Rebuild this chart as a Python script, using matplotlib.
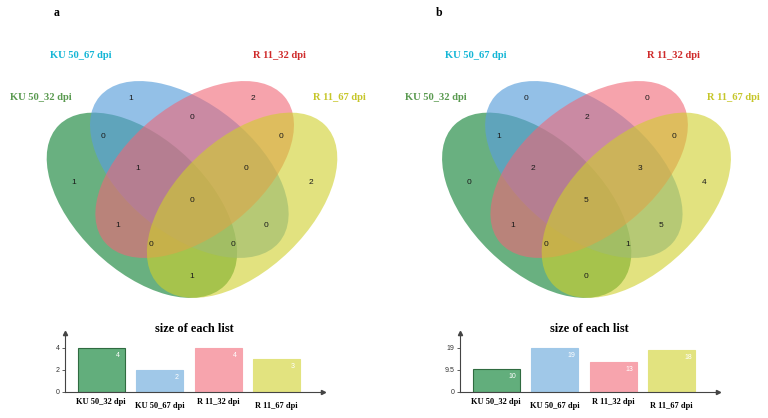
import matplotlib
matplotlib.use("Agg")
import matplotlib.pyplot as plt
from matplotlib.patches import Ellipse

# set names and colours
set_names = ["KU 50_32 dpi", "KU 50_67 dpi", "R 11_32 dpi", "R 11_67 dpi"]
name_colors = ["#5a9a50", "#14b6d6", "#cf2a2a", "#c6c62a"]

# region order: A, B, C, D, AB, BC, CD, AC, BD, AD, ABC, BCD, ACD, ABD, ABCD
counts_a = [1, 1, 2, 2, 0, 0, 0, 1, 0, 1, 1, 0, 0, 0, 0]
counts_b = [0, 0, 0, 4, 1, 2, 0, 1, 5, 0, 2, 3, 0, 1, 5]

# size of each list (bar charts)
sizes_a = [4, 2, 4, 3]
sizes_b = [10, 19, 13, 18]

# layout of the 4-set venn (data units of a 0..1 box)
ell_fill = ["#067c2c", "#5a9fdb", "#f06676", "#cfd02a"]
ell_alpha = [0.6, 0.65, 0.6, 0.6]
# (centre, width, height, angle)
ell_geom = [((0.35, 0.47), 0.70, 0.40, -45),
            ((0.492, 0.58), 0.70, 0.40, -40),
            ((0.508, 0.58), 0.70, 0.40, 40),
            ((0.65, 0.47), 0.70, 0.40, 45)]
region_xy = [(0.145, 0.541), (0.317, 0.80), (0.683, 0.80), (0.855, 0.541),
             (0.235, 0.68), (0.5, 0.741), (0.765, 0.68),
             (0.277, 0.409), (0.723, 0.409), (0.5, 0.252),
             (0.338, 0.584), (0.662, 0.584), (0.377, 0.35), (0.623, 0.35),
             (0.5, 0.486)]
name_xy = [(0.047, 0.80), (0.167, 0.932), (0.761, 0.932), (0.941, 0.80)]

bar_colors = ["#62ae7c", "#a0c8e8", "#f7a4ad", "#e2e37f"]
bar_edges = ["#2f6b40", "#a0c8e8", "#f7a4ad", "#e2e37f"]

serif = ["Liberation Serif", "DejaVu Serif"]
sans = ["Liberation Sans", "DejaVu Sans"]

fig = plt.figure(figsize=(7.68, 4.18), dpi=100)
W, H = 768.0, 418.0


def venn(ax, counts):
    for (c, w, h, ang), col, al in zip(ell_geom, ell_fill, ell_alpha):
        ax.add_patch(Ellipse(c, w, h, angle=ang, facecolor=col,
                             alpha=al, edgecolor="none"))
    for (x, y), n in zip(region_xy, counts):
        ax.text(x, y, str(n), ha="center", va="center", fontsize=6,
                family=sans, color="#1a1a1a")
    for (x, y), nm, col in zip(name_xy, set_names, name_colors):
        ax.text(x, y, nm, ha="center", va="center", fontsize=7.6,
                family=serif, fontweight="bold", color=col)
    ax.set_xlim(0, 1)
    ax.set_ylim(0, 1)
    ax.axis("off")


def bars(ax, sizes):
    top = max(sizes)
    xs = range(len(sizes))
    ax.bar(xs, sizes, width=0.8, color=bar_colors, edgecolor=bar_edges, linewidth=0.8)
    for i, v in enumerate(sizes):
        ax.annotate(str(v), (i + 0.28, v), xytext=(0, -5.5), textcoords="offset points",
                    ha="center", va="center", fontsize=5, color="white", family=sans)
    ax.set_xlim(-0.62, 3.79)
    ax.set_ylim(0, top * 59 / 44.0)
    ax.set_yticks([0, top / 2, top])
    ax.set_yticklabels(["0", ("%g" % (top / 2)), str(top)], fontsize=5, family=sans, color="#333333")
    ax.tick_params(axis="y", length=2, width=0.6, pad=2, color="#444444")
    ax.set_xticks([])
    for i, nm in enumerate(set_names):
        ax.text(i, -0.17 if i % 2 == 0 else -0.24, nm, transform=ax.get_xaxis_transform(),
                ha="center", va="center", fontsize=6, family=serif, fontweight="bold")
    for s in ["top", "right"]:
        ax.spines[s].set_visible(False)
    for s in ["left", "bottom"]:
        ax.spines[s].set_color("#444444")
        ax.spines[s].set_linewidth(0.8)
    ax.plot(1, 0, ">", color="#444444", ms=3, transform=ax.transAxes, clip_on=False)
    ax.plot(0, 1, "^", color="#444444", ms=3, transform=ax.transAxes, clip_on=False)
    ax.text(0.5, 1.07, "size of each list", transform=ax.transAxes, ha="center", va="center",
            fontsize=8.8, family=serif, fontweight="bold")
    ax.patch.set_alpha(0)


# venn axes (pixel rects converted to figure fractions)
ax_va = fig.add_axes([25 / W, (H - 358) / H, 334 / W, 325 / H])
ax_vb = fig.add_axes([420.5 / W, (H - 358) / H, 332 / W, 325 / H])
venn(ax_va, counts_a)
venn(ax_vb, counts_b)

ax_ba = fig.add_axes([65 / W, (H - 392) / H, 258 / W, 59 / H])
ax_bb = fig.add_axes([460 / W, (H - 392) / H, 258 / W, 59 / H])
bars(ax_ba, sizes_a)
bars(ax_bb, sizes_b)

fig.text(57 / W, 1 - 13 / H, "a", ha="center", va="center", fontsize=8.5,
         family=serif, fontweight="bold")
fig.text(439 / W, 1 - 13 / H, "b", ha="center", va="center", fontsize=8.5,
         family=serif, fontweight="bold")

fig.savefig("out.png", dpi=100)
